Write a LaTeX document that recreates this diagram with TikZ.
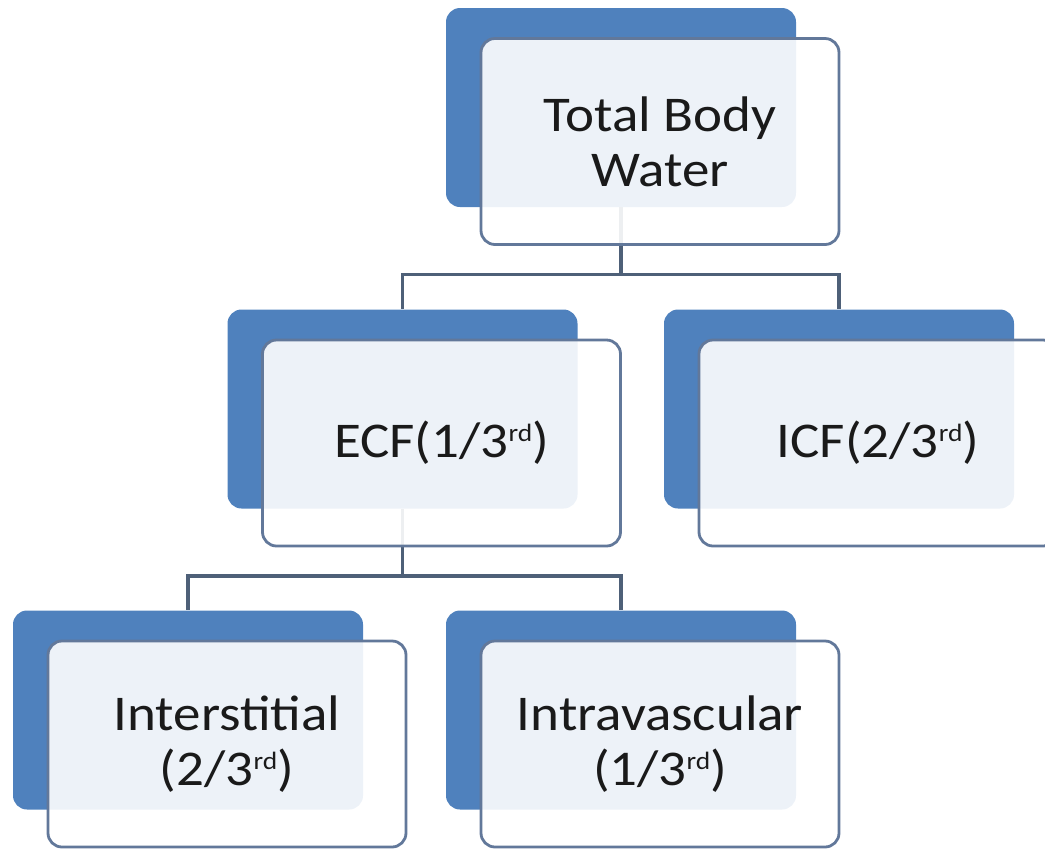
\documentclass[tikz,border=0pt]{standalone}
\usepackage{fontspec}
\setmainfont{Carlito}[FakeStretch=1.1]
\definecolor{bleu}{HTML}{4F81BD}
\definecolor{bord}{HTML}{62789A}
\definecolor{trait}{HTML}{4E6078}
\definecolor{texte}{HTML}{1A1A1A}
\newcommand\exposant[1]{\raisebox{8pt}{\fontsize{12.5}{12.5}\selectfont #1}}
\begin{document}
\begin{tikzpicture}[x=0.5pt,y=-0.5pt]
	% Styles (MODIFIABLES)
	\tikzstyle{fond}=[fill=bleu,rounded corners=7pt,inner sep=0pt,minimum width=175pt,minimum height=99.5pt]
	\tikzstyle{cadre}=[draw=bord,line width=1.4pt,fill=white,fill opacity=0.9,text opacity=1,rounded corners=7pt,inner sep=0pt,minimum width=179pt,minimum height=103pt,align=center,text=texte,font=\fontsize{25}{27.5}\selectfont]
	\tikzstyle{lien}=[draw=trait,line width=1.7pt]
	% Dimensions (MODIFIABLES)
	\def\DecalageX{39}
	\def\DecalageY{34}
	\def\Fourche{67}
	% Cadre de l'image
	\useasboundingbox (0,0) rectangle (1045,848);
	\clip (0,0) rectangle (1045,848);
	% Fonds bleus
	\node[fond] (tbwB) at (621,107.5) {};
	\node[fond] (ecfB) at (402.5,409) {};
	\node[fond] (icfB) at (839,409) {};
	\node[fond] (intB) at (188,710) {};
	\node[fond] (ivsB) at (621,710) {};
	% Liens
	\path (tbwB.south) ++(0,\Fourche) coordinate (fA);
	\path (ecfB.south) ++(0,\Fourche) coordinate (fB);
	\draw[lien] (tbwB.south) -- (fA);
	\draw[lien] (fA) -| (ecfB.north);
	\draw[lien] (fA) -| (icfB.north);
	\draw[lien] (ecfB.south) -- (fB);
	\draw[lien] (fB) -| (intB.north);
	\draw[lien] (fB) -| (ivsB.north);
	% Cadres blancs
	\node[cadre] (tbw) at ({621+\DecalageX},{107.5+\DecalageY}) {Total Body\\Water};
	\node[cadre] (ecf) at ({402.5+\DecalageX},{409+\DecalageY}) {ECF(1/3\exposant{rd})};
	\node[cadre] (icf) at ({839+\DecalageX},{409+\DecalageY}) {ICF(2/3\exposant{rd})};
	\node[cadre] (int) at ({188+\DecalageX},{710+\DecalageY}) {Interstitial\\(2/3\exposant{rd})};
	\node[cadre] (ivs) at ({621+\DecalageX},{710+\DecalageY}) {Intravascular\\(1/3\exposant{rd})};
\end{tikzpicture}
\end{document}
